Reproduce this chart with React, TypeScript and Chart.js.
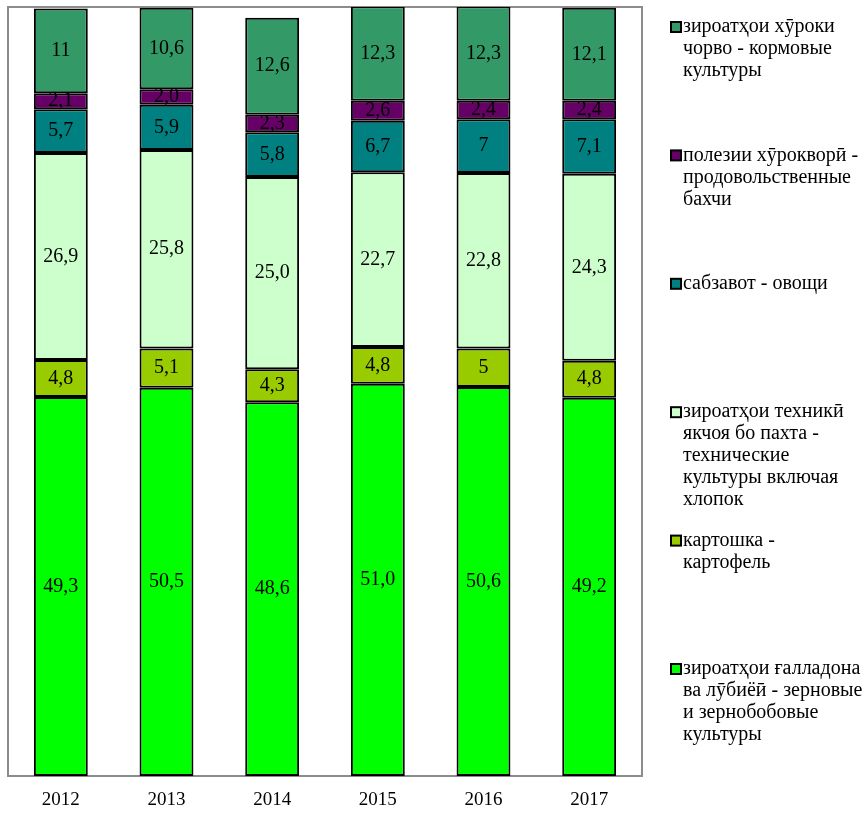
import { useEffect, useRef } from "react";
import { Chart, registerables } from "chart.js";
Chart.register(...registerables);

const years = ["2012", "2013", "2014", "2015", "2016", "2017"];

const grain = [49.3, 50.5, 48.6, 51.0, 50.6, 49.2];
const potato = [4.8, 5.1, 4.3, 4.8, 5, 4.8];
const technical = [26.9, 25.8, 25.0, 22.7, 22.8, 24.3];
const vegetables = [5.7, 5.9, 5.8, 6.7, 7, 7.1];
const melons = [2.1, 2.0, 2.3, 2.6, 2.4, 2.4];
const fodder = [11, 10.6, 12.6, 12.3, 12.3, 12.1];

const grainText = ["49,3", "50,5", "48,6", "51,0", "50,6", "49,2"];
const potatoText = ["4,8", "5,1", "4,3", "4,8", "5", "4,8"];
const technicalText = ["26,9", "25,8", "25,0", "22,7", "22,8", "24,3"];
const vegetablesText = ["5,7", "5,9", "5,8", "6,7", "7", "7,1"];
const melonsText = ["2,1", "2,0", "2,3", "2,6", "2,4", "2,4"];
const fodderText = ["11", "10,6", "12,6", "12,3", "12,3", "12,1"];

const grainName = ["зироатҳои ғалладона", "ва лӯбиёӣ - зерновые", "и зернобобовые", "культуры"];
const potatoName = ["картошка -", "картофель"];
const technicalName = ["зироатҳои техникӣ", "якчоя бо пахта -", "технические", "культуры включая", "хлопок"];
const vegetablesName = ["сабзавот - овощи"];
const melonsName = ["полезии хӯрокворӣ -", "продовольственные", "бахчи"];
const fodderName = ["зироатҳои хӯроки", "чорво - кормовые", "культуры"];

const FONT = '"Liberation Serif", "DejaVu Serif", serif';

const series = [
  { name: grainName, data: grain, text: grainText, color: "#00ff00" },
  { name: potatoName, data: potato, text: potatoText, color: "#99cc00" },
  { name: technicalName, data: technical, text: technicalText, color: "#ccffcc" },
  { name: vegetablesName, data: vegetables, text: vegetablesText, color: "#008080" },
  { name: melonsName, data: melons, text: melonsText, color: "#660066" },
  { name: fodderName, data: fodder, text: fodderText, color: "#339966" },
];

const areaBorder = {
  id: "areaBorder",
  beforeDatasetsDraw(chart: any) {
    const { ctx, chartArea } = chart;
    const { left, top, right, bottom } = chartArea;
    ctx.save();
    ctx.strokeStyle = "#8c8c8c";
    ctx.lineWidth = 2;
    ctx.strokeRect(left, top, right - left, bottom - top);
    ctx.restore();
  },
};

const valueLabels = {
  id: "valueLabels",
  afterDatasetsDraw(chart: any) {
    const { ctx } = chart;
    ctx.save();
    ctx.font = `20px ${FONT}`;
    ctx.fillStyle = "#000";
    ctx.textAlign = "center";
    ctx.textBaseline = "middle";
    chart.data.datasets.forEach((ds: any, di: number) => {
      const meta = chart.getDatasetMeta(di);
      meta.data.forEach((el: any, i: number) => {
        const y = (el.y + el.base) / 2;
        ctx.fillText(series[di].text[i], el.x, y);
      });
    });
    ctx.restore();
  },
};

const sideLegend = {
  id: "sideLegend",
  afterDraw(chart: any) {
    const { ctx, chartArea } = chart;
    const markerX = chartArea.right + 29;
    const textX = chartArea.right + 41;
    ctx.save();
    ctx.font = `20px ${FONT}`;
    ctx.textAlign = "left";
    ctx.textBaseline = "middle";
    const order = [...series].reverse();
    order.forEach((s, idx) => {
      const y0 = 27 + idx * 128.4;
      ctx.fillStyle = s.color;
      ctx.fillRect(markerX, y0 - 5, 10, 10);
      ctx.strokeStyle = "#000";
      ctx.lineWidth = 2;
      ctx.strokeRect(markerX, y0 - 5, 10, 10);
      ctx.fillStyle = "#000";
      s.name.forEach((line, k) => {
        ctx.fillText(line, textX, y0 + k * 22);
      });
    });
    ctx.restore();
  },
};

export default function App() {
  const ref = useRef<HTMLCanvasElement | null>(null);
  useEffect(() => {
    document.body.style.margin = "0";
    const chart = new Chart(ref.current as HTMLCanvasElement, {
      type: "bar",
      data: {
        labels: years,
        datasets: series.map((s) => ({
          label: s.name.join(" "),
          data: s.data,
          backgroundColor: s.color,
          borderColor: "#000",
          borderWidth: 2,
          borderSkipped: false,
          inflateAmount: 0,
          categoryPercentage: 1,
          barPercentage: 0.51,
        })),
      },
      options: {
        animation: false,
        responsive: false,
        devicePixelRatio: 1,
        layout: { padding: { left: 8, top: 7, right: 221, bottom: 2 } },
        plugins: { legend: { display: false }, tooltip: { enabled: false } },
        scales: {
          x: {
            stacked: true,
            grid: { display: false, drawTicks: false },
            border: { display: false },
            ticks: { color: "#000", font: { family: FONT, size: 19 }, padding: 13 },
            afterFit(scale: any) {
              scale.height = 36;
            },
          },
          y: {
            stacked: true,
            display: false,
            min: 0,
            max: 100,
          },
        },
      },
      plugins: [areaBorder, valueLabels, sideLegend],
    });
    return () => chart.destroy();
  }, []);
  return (
    <div style={{ width: 863, height: 814 }}>
      <canvas ref={ref} width={863} height={814} style={{ display: "block" }} />
    </div>
  );
}
